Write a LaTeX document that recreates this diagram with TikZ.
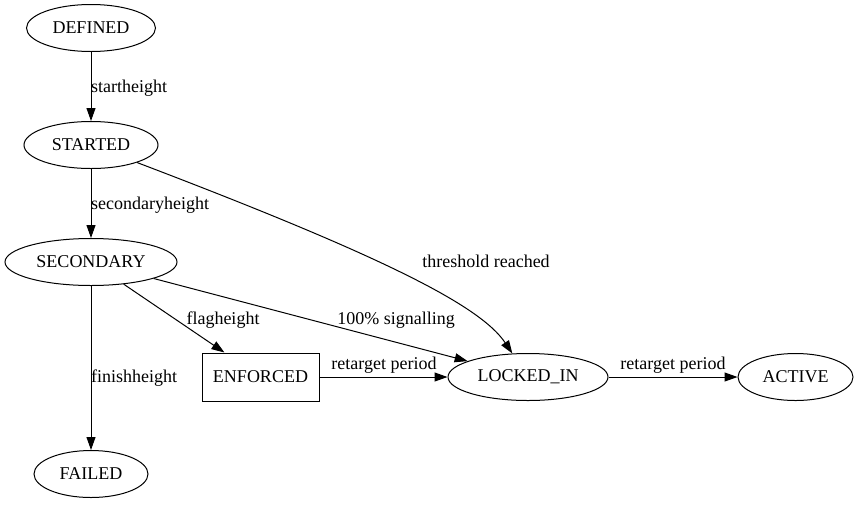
\documentclass[tikz,border=0pt]{standalone}
\usepackage{fontspec}
\setmainfont{Liberation Serif}
\usetikzlibrary{shapes.geometric,arrows.meta}
\begin{document}
\begin{tikzpicture}[x=1pt,y=-1pt,
  every node/.style={font=\fontsize{18}{20}\selectfont},
  state/.style={draw,ellipse,line width=1pt,inner sep=0pt,minimum height=47pt},
  boxstate/.style={draw,rectangle,line width=1pt,inner sep=0pt,minimum width=117pt,minimum height=48pt},
  lbl/.style={inner sep=0pt,anchor=base},
  lblw/.style={inner sep=0pt,anchor=base west},
  edge/.style={line width=1pt,-{Triangle[length=13pt,width=9pt]}}]
\useasboundingbox (0,0) rectangle (858,504);
\node[state,minimum width=129pt] (DEF) at (91,28) {DEFINED};
\node[state,minimum width=134pt] (STA) at (91,145) {STARTED};
\node[state,minimum width=172pt] (SEC) at (91,262) {SECONDARY};
\node[state,minimum width=114pt] (FAI) at (91,474) {FAILED};
\node[boxstate] (ENF) at (260.5,377) {ENFORCED};
\node[state,minimum width=160pt] (LOC) at (528,377) {LOCKED\_IN};
\node[state,minimum width=115pt] (ACT) at (795.5,377) {ACTIVE};

\draw[edge] (DEF) -- (STA);
\draw[edge] (STA) -- (SEC);
\draw[edge] (SEC) -- (FAI);
\draw[edge] (SEC) -- (ENF);
\draw[edge] (SEC) -- (LOC);
\draw[edge] (STA) .. controls (380,255) and (480,305) .. (LOC);
\draw[edge] (ENF) -- (LOC);
\draw[edge] (LOC) -- (ACT);

\node[lblw] (l1) at (91,92) {startheight};
\node[lblw] (l2) at (91,209) {secondaryheight};
\node[lblw] (l3) at (91,382) {finishheight};
\node[lbl] (l4) at (486,267) {threshold reached};
\node[lbl] (l5) at (223,324) {flagheight};
\node[lbl] (l6) at (396,324) {100\% signalling};
\node[lbl] (l7) at (384,369) {retarget period};
\node[lbl] (l8) at (673,369) {retarget period};
\end{tikzpicture}
\end{document}
